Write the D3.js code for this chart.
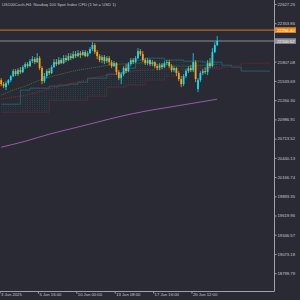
<!DOCTYPE html>
<html>
<head>
<meta charset="utf-8">
<script src="https://cdn.jsdelivr.net/npm/d3@7"></script>
<style>
html,body{margin:0;padding:0;background:#2a2a35;}
svg{display:block;}
</style>
</head>
<body>
<div id="chart"></div>
<script>
// US100Cash H4 bars
const opens = [21545,21488,21445,21502,21545,21602,21673,21630,21687,21659,
  21730,21773,21744,21815,21844,21801,21858,21716,21531,21602,
  21673,21645,21730,21801,21773,21830,21787,21858,21830,21887,
  21858,21915,21887,21929,21901,21944,21887,21929,21986,22043,
  21944,21887,21830,21872,21815,21858,21801,21744,21787,21659,
  21573,21630,21716,21673,21773,21830,21801,21858,21958,21915,
  21830,21787,21830,21773,21801,21744,21716,21758,21730,21787,
  21801,21744,21687,21716,21645,21559,21488,21602,21673,21716,
  21687,21801,21417,21545,21645,21673,21659,21787,21744,21944,
  22043]
const highs = [21573,21516,21531,21559,21616,21702,21702,21716,21730,21758,
  21801,21801,21844,21887,21872,21929,21887,21744,21645,21702,
  21716,21758,21844,21844,21872,21858,21901,21901,21929,21929,
  21958,21958,21972,21958,21972,21972,21958,22015,22086,22072,
  21972,21915,21901,21901,21887,21887,21830,21815,21801,21687,
  21659,21744,21773,21801,21858,21858,21887,22000,21986,21958,
  21858,21858,21844,21830,21815,21773,21787,21787,21815,21830,
  21830,21773,21744,21730,21673,21602,21630,21702,21744,21758,
  21929,21830,21573,21673,21702,21730,21830,21858,22000,22086,
  22171]
const lows = [21459,21431,21403,21474,21516,21588,21602,21602,21630,21645,
  21702,21716,21730,21787,21773,21787,21687,21488,21502,21573,
  21616,21630,21716,21744,21758,21773,21773,21801,21815,21830,
  21844,21858,21872,21858,21887,21872,21872,21915,21958,21915,
  21844,21801,21787,21773,21787,21758,21716,21730,21616,21545,
  21488,21602,21645,21659,21744,21773,21787,21844,21887,21801,
  21758,21758,21744,21744,21716,21687,21687,21702,21716,21758,
  21716,21659,21659,21602,21531,21445,21459,21573,21645,21659,
  21659,21516,21374,21516,21616,21630,21616,21716,21730,21929,
  22029]
const closes = [21488,21459,21502,21545,21602,21673,21630,21687,21659,21730,
  21773,21744,21815,21844,21801,21858,21716,21531,21602,21673,
  21645,21730,21801,21773,21830,21787,21858,21830,21887,21858,
  21915,21887,21929,21901,21944,21887,21929,21986,22043,21944,
  21887,21830,21872,21815,21858,21801,21744,21787,21659,21573,
  21630,21716,21673,21773,21830,21801,21858,21958,21915,21830,
  21787,21830,21773,21801,21744,21716,21758,21730,21787,21801,
  21744,21687,21716,21645,21559,21488,21602,21673,21716,21687,
  21801,21559,21545,21645,21673,21659,21787,21744,21944,22043,
  22100]

// moving averages, sampled at bar index
const maIdx = [0,5,10,15,20,25,30,35,40,45,50,55,60,65,70,75,80,85,90]
const greenMA = [21331,21403,21459,21531,21588,21630,21673,21702,21730,21758,21773,21787,21787,21773,21758,21744,21744,21758,21773]
const redMA = [21274,21303,21331,21374,21417,21459,21502,21545,21588,21616,21645,21673,21687,21694,21702,21702,21716,21716,21730]
const slowIdx = [0,10,20,30,40,50,60,70,80,90]
const slowMA = [20591,20676,20776,20861,20947,21032,21103,21160,21217,21274]

// cloud (spans), shifted into the future
const cloudIdx = [0,4,8,12,16,20,24,28,32,36,40,44,48,52,56,60,64,68,72,76,80,84,88,92,96,100,104,108,112,114]
const spanA = [21203,21203,21403,21431,21431,21459,21474,21488,21516,21573,21573,21630,21645,21716,21830,21858,21858,21830,21830,21815,21815,21801,21801,21758,21730,21673,21673,21673,21673,21673]
const spanB = [21089,21089,21089,21089,21089,21260,21260,21260,21260,21317,21317,21445,21445,21474,21474,21545,21545,21602,21602,21687,21687,21702,21702,21730,21744,21787,21787,21787,21787,21787]

const yTicks = [18799.79,19073.18,19346.57,19619.96,19893.35,20166.74,20440.13,20713.52,20986.91,21260.30,21533.69,21807.08,22080.47,22353.86,22627.25]
const xTickIdx = [0,16,32,48,64,80]
const xTickLabels = ["3 Jun 2025","5 Jun 16:00","10 Jun 00:00","13 Jun 08:00","17 Jun 16:00","20 Jun 12:00"]
const alertLevel = 22256.40
const bidLevel = 22100.52
const title = "US100Cash,H4:  Nasdaq 100 Spot Index CFD (1 lot = USD 1)"

var width = 300, height = 300
var plotW = 274, plotH = 291

var svg = d3.select("#chart").append("svg")
    .attr("width", width)
    .attr("height", height)
    .style("font-family", "'Liberation Sans', Arial, sans-serif")

svg.append("rect").attr("width", width).attr("height", height).attr("fill", "#2a2a35")

var defs = svg.append("defs")
defs.append("clipPath").attr("id", "plotclip")
  .append("rect").attr("width", plotW).attr("height", plotH)

function hatch(id, color) {
  var p = defs.append("pattern").attr("id", id)
    .attr("patternUnits", "userSpaceOnUse")
    .attr("width", 2.4).attr("height", 2)
  p.append("rect").attr("x", 1).attr("y", 0).attr("width", 0.5).attr("height", 1).attr("fill", color)
}
hatch("hatchTeal", "#1a5a62")
hatch("hatchRed", "#55222e")

var x = d3.scaleBand()
    .domain(d3.range(114))
    .range([0, 273.6])
    .padding(0)
var bw = x.bandwidth()
var cx = i => x(i) + bw / 2

var y = d3.scaleLinear()
    .domain([18799.79, 22627.25])
    .range([273.2, 4])

var plot = svg.append("g").attr("clip-path", "url(#plotclip)")

// cloud
var cloud = cloudIdx.map((i, k) => ({i: i, a: spanA[k], b: spanB[k]}))
var area = d3.area()
    .x(d => cx(d.i))
    .y0(d => y(d.b))
    .y1(d => y(d.a))
    .curve(d3.curveStepAfter)
var up = cloud.filter((d, k) => d.a >= d.b || (k > 0 && cloud[k-1].a >= cloud[k-1].b))
var dn = cloud.filter((d, k) => d.a < d.b || (k > 0 && cloud[k-1].a < cloud[k-1].b))
plot.append("path").datum(up).attr("d", area).attr("fill", "url(#hatchTeal)")
plot.append("path").datum(dn).attr("d", area).attr("fill", "url(#hatchRed)")

var stepLine = acc => d3.line().x(d => cx(d.i)).y(d => y(acc(d))).curve(d3.curveStepAfter)
plot.append("path").datum(cloud).attr("d", stepLine(d => d.a))
  .attr("fill", "none").attr("stroke", "#23808a").attr("stroke-width", 0.6)
plot.append("path").datum(cloud).attr("d", stepLine(d => d.b))
  .attr("fill", "none").attr("stroke", "#6e2a38").attr("stroke-width", 0.6)

// moving averages
var maLine = d3.line().x(d => cx(d[0])).y(d => y(d[1])).curve(d3.curveMonotoneX)
plot.append("path").datum(maIdx.map((i, k) => [i, greenMA[k]])).attr("d", maLine)
  .attr("fill", "none").attr("stroke", "#3a8a3e").attr("stroke-width", 0.8).attr("stroke-dasharray", "1,1")
plot.append("path").datum(maIdx.map((i, k) => [i, redMA[k]])).attr("d", maLine)
  .attr("fill", "none").attr("stroke", "#9a2e2e").attr("stroke-width", 0.8).attr("stroke-dasharray", "1,1")
plot.append("path").datum(slowIdx.map((i, k) => [i, slowMA[k]])).attr("d", maLine)
  .attr("fill", "none").attr("stroke", "#a45fb4").attr("stroke-width", 0.9)

// horizontal lines
plot.append("line").attr("x1", 0).attr("x2", plotW)
  .attr("y1", y(alertLevel)).attr("y2", y(alertLevel))
  .attr("stroke", "#b8651c").attr("stroke-width", 1.3)
plot.append("line").attr("x1", 0).attr("x2", plotW)
  .attr("y1", y(bidLevel)).attr("y2", y(bidLevel))
  .attr("stroke", "#6c6c76").attr("stroke-width", 1.5)

// candles
var bars = d3.range(closes.length).map(i => ({i: i, o: opens[i], h: highs[i], l: lows[i], c: closes[i]}))
var colorOf = d => d.c >= d.o ? "#12dced" : "#f2a21e"
var cg = plot.append("g")
cg.selectAll("line.wick").data(bars).enter().append("line")
    .attr("x1", d => cx(d.i)).attr("x2", d => cx(d.i))
    .attr("y1", d => y(d.h)).attr("y2", d => y(d.l))
    .attr("stroke", colorOf).attr("stroke-width", 0.8)
cg.selectAll("rect").data(bars).enter().append("rect")
    .attr("x", d => cx(d.i) - 0.9)
    .attr("width", 1.8)
    .attr("y", d => y(Math.max(d.o, d.c)))
    .attr("height", d => Math.max(0.8, Math.abs(y(d.o) - y(d.c))))
    .attr("fill", colorOf)

// frame
svg.append("line").attr("x1", plotW + 0.5).attr("x2", plotW + 0.5).attr("y1", 0).attr("y2", plotH + 0.5)
  .attr("stroke", "#a0a0a8").attr("stroke-width", 1)
svg.append("line").attr("x1", 0).attr("x2", plotW + 0.5).attr("y1", plotH + 0.5).attr("y2", plotH + 0.5)
  .attr("stroke", "#a0a0a8").attr("stroke-width", 1)

// y axis (ticks hidden under the price tags are not shown, as in the terminal)
var tags = [alertLevel, bidLevel]
var shownTicks = yTicks.filter(v => tags.every(t => Math.abs(y(v) - y(t)) > 4))
var yAxis = svg.append("g")
    .attr("transform", "translate(" + (plotW + 0.5) + ",0)")
    .call(d3.axisRight(y).tickValues(shownTicks).tickSize(2).tickPadding(1).tickFormat(d3.format(".2f")))
yAxis.select(".domain").remove()
yAxis.selectAll("line").attr("stroke", "#a0a0a8")
yAxis.selectAll("text").attr("fill", "#c8c8cc").style("font-size", "4.2px")

// x axis
var xAxis = svg.append("g")
    .attr("transform", "translate(0," + (plotH + 0.5) + ")")
    .call(d3.axisBottom(x).tickValues(xTickIdx).tickSize(2).tickFormat((d, k) => xTickLabels[k]))
xAxis.select(".domain").remove()
xAxis.selectAll(".tick").attr("transform", d => "translate(" + x(d) + ",0)")
xAxis.selectAll("line").attr("stroke", "#a0a0a8")
xAxis.selectAll("text").attr("fill", "#c8c8cc").style("font-size", "4.2px")
    .attr("text-anchor", "start").attr("x", 1).attr("y", 2).attr("dy", "0.71em")

// price labels
function priceTag(v, bg, fg) {
  var g = svg.append("g").attr("transform", "translate(" + (plotW + 1) + "," + y(v) + ")")
  g.append("rect").attr("x", 0).attr("y", -2.8).attr("width", 21).attr("height", 5.6).attr("fill", bg)
  g.append("text").attr("x", 2).attr("y", 0).attr("dy", "0.35em")
    .attr("fill", fg).style("font-size", "4.2px").text(d3.format(".2f")(v))
}
priceTag(alertLevel, "#ee8c12", "#ffffff")
priceTag(bidLevel, "#8e8e96", "#ffffff")

// title
svg.append("text").attr("x", 2).attr("y", 4.5).attr("dy", "0.35em")
  .attr("fill", "#c0c0c4").style("font-size", "4.2px").text(title)
</script>
</body>
</html>
